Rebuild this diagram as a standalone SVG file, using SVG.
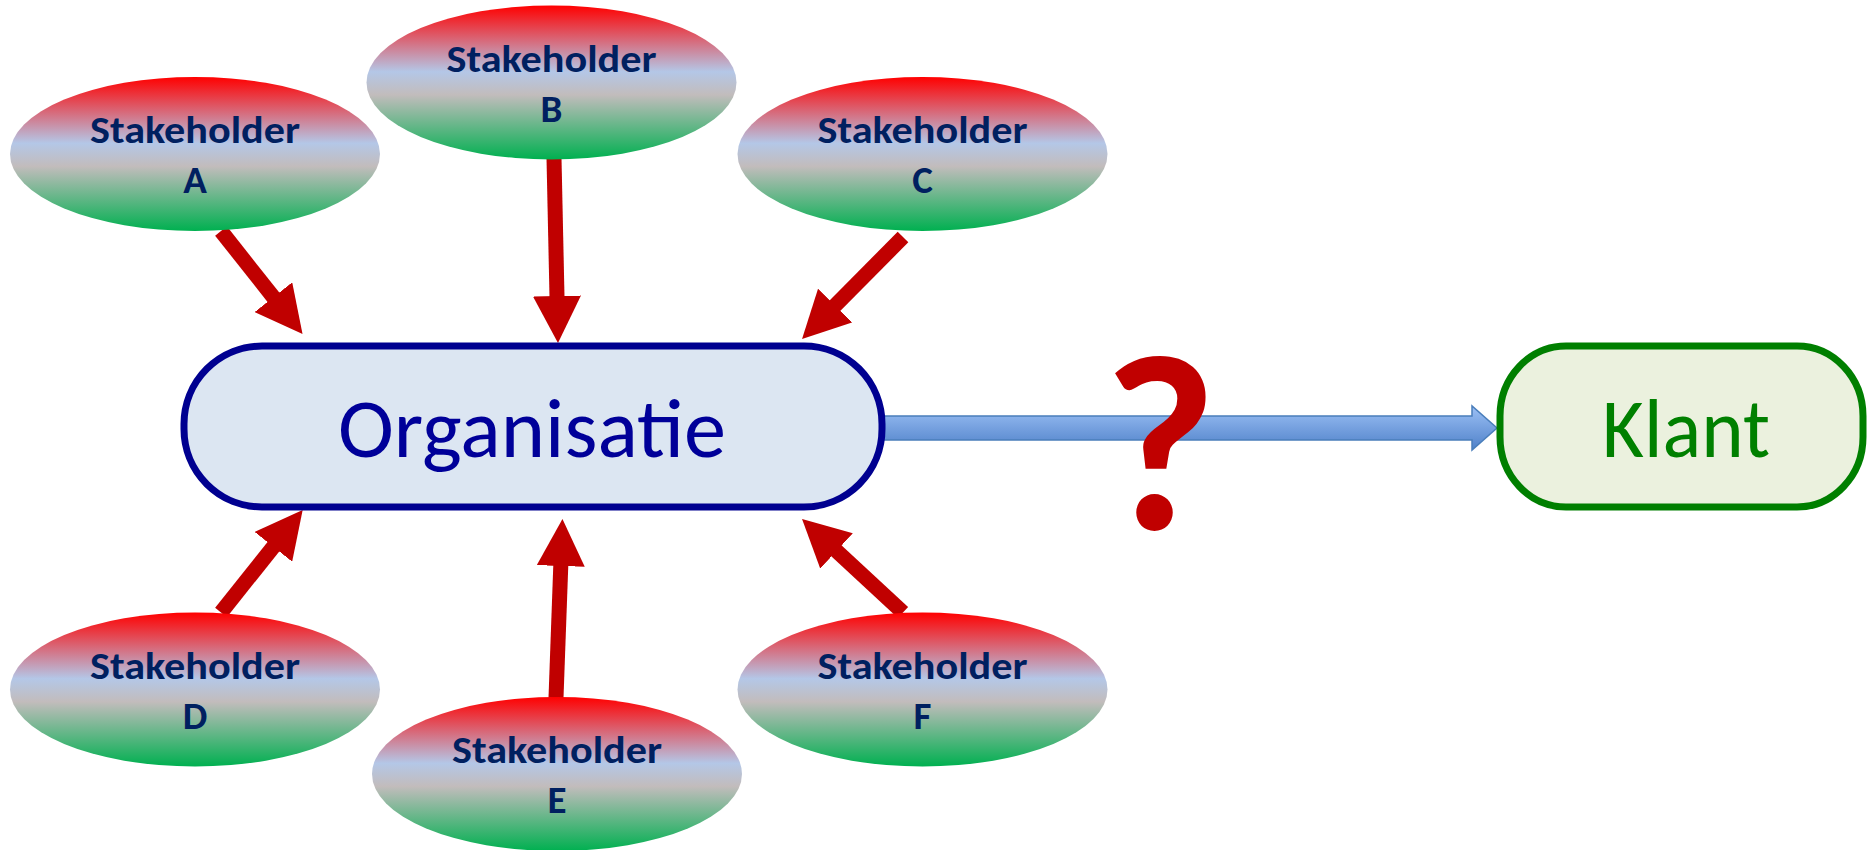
<svg xmlns="http://www.w3.org/2000/svg" width="1870" height="850" viewBox="0 0 1870 850">
<defs>
<linearGradient id="stk" x1="0" y1="0" x2="0" y2="1">
<stop offset="0" stop-color="#FF0000"/>
<stop offset="0.43" stop-color="#B4C7E7"/>
<stop offset="0.58" stop-color="#C2BCBC"/>
<stop offset="1" stop-color="#00B050"/>
</linearGradient>
<linearGradient id="blu" x1="0" y1="0" x2="0" y2="1">
<stop offset="0" stop-color="#9CC0F5"/>
<stop offset="1" stop-color="#4F81C9"/>
</linearGradient>
<marker id="head" markerUnits="userSpaceOnUse" viewBox="0 0 48 48" markerWidth="48" markerHeight="48" refX="1" refY="24" orient="auto">
<path d="M0,0 L47,24 L0,48 Z" fill="#C00000"/>
</marker>
<style>
.stk{fill:url(#stk);}
.lbl{font-family:Carlito,Lato,"Open Sans",sans-serif;font-weight:bold;font-size:39px;fill:#002060;text-anchor:middle;}
.red{stroke:#C00000;stroke-width:15;fill:none;marker-end:url(#head);}
.big{font-family:Carlito,Lato,"Open Sans",sans-serif;font-size:85px;text-anchor:middle;}
</style>
</defs>
<g id="connectors">
<line class="red" x1="221" y1="231" x2="274" y2="298"/>
<line class="red" x1="554" y1="158" x2="557" y2="297"/>
<line class="red" x1="903" y1="237" x2="834.4" y2="306.3"/>
<line class="red" x1="221" y1="612.5" x2="274" y2="546"/>
<line class="red" x1="556" y1="698" x2="560.8" y2="565"/>
<line class="red" x1="903" y1="612.5" x2="835.8" y2="550.3"/>
<path id="blue-arrow" d="M884,416 L1472,416 L1472,406 L1497,428 L1472,450 L1472,440 L884,440 Z" fill="url(#blu)" stroke="#4A7EBB" stroke-width="1.5"/>
</g>
<g id="stakeholder-a">
<ellipse class="stk" cx="195" cy="154" rx="185" ry="77"/>
<text class="lbl" x="195" y="143" textLength="210" lengthAdjust="spacingAndGlyphs">Stakeholder</text>
<text class="lbl" x="195" y="193">A</text>
</g>
<g id="stakeholder-b">
<ellipse class="stk" cx="551.5" cy="82.5" rx="185" ry="77"/>
<text class="lbl" x="551.5" y="71.5" textLength="210" lengthAdjust="spacingAndGlyphs">Stakeholder</text>
<text class="lbl" x="551.5" y="121.5">B</text>
</g>
<g id="stakeholder-c">
<ellipse class="stk" cx="922.5" cy="154" rx="185" ry="77"/>
<text class="lbl" x="922.5" y="143" textLength="210" lengthAdjust="spacingAndGlyphs">Stakeholder</text>
<text class="lbl" x="922.5" y="193">C</text>
</g>
<g id="stakeholder-d">
<ellipse class="stk" cx="195" cy="689.5" rx="185" ry="77"/>
<text class="lbl" x="195" y="678.5" textLength="210" lengthAdjust="spacingAndGlyphs">Stakeholder</text>
<text class="lbl" x="195" y="728.5">D</text>
</g>
<g id="stakeholder-e">
<ellipse class="stk" cx="557" cy="774" rx="185" ry="77"/>
<text class="lbl" x="557" y="763" textLength="210" lengthAdjust="spacingAndGlyphs">Stakeholder</text>
<text class="lbl" x="557" y="813">E</text>
</g>
<g id="stakeholder-f">
<ellipse class="stk" cx="922.5" cy="689.5" rx="185" ry="77"/>
<text class="lbl" x="922.5" y="678.5" textLength="210" lengthAdjust="spacingAndGlyphs">Stakeholder</text>
<text class="lbl" x="922.5" y="728.5">F</text>
</g>
<g id="organisatie">
<rect x="184" y="346" width="698" height="161" rx="78" ry="78" fill="#DCE6F2" stroke="#000090" stroke-width="7"/>
<text class="big" x="532" y="457" fill="#000099" textLength="388" lengthAdjust="spacingAndGlyphs">Organisatie</text>
</g>
<g id="klant">
<rect x="1500" y="346" width="363" height="161" rx="66" ry="70" fill="#EBF1DE" stroke="#007F00" stroke-width="7"/>
<text class="big" x="1686" y="457" fill="#008000" textLength="168" lengthAdjust="spacingAndGlyphs">Klant</text>
</g>
<g id="question">
<text x="1160" y="529" font-family="Carlito,Lato,'Open Sans',sans-serif" font-weight="900" font-size="245" fill="#C00000" text-anchor="middle" transform="translate(1160 529) scale(1 1.03) translate(-1160 -529)">?</text>
</g>
</svg>
